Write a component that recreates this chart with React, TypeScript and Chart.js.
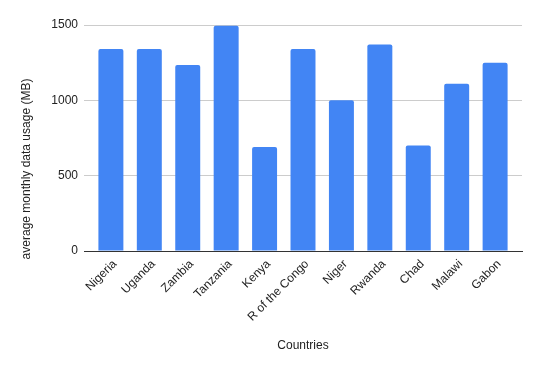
import React, { useEffect, useRef } from "react";
import { Chart, registerables } from "chart.js";

Chart.register(...registerables);

const countries = ["Nigeria", "Uganda", "Zambia", "Tanzania", "Kenya", "R of the Congo", "Niger", "Rwanda", "Chad", "Malawi", "Gabon"];
const usageMB = [1340, 1340, 1235, 1495, 690, 1340, 1000, 1370, 700, 1110, 1250];
const yTicks = [0, 500, 1000, 1500];
const yTitle = "average monthly data usage (MB)";
const xTitle = "Countries";

const FONT = "'Liberation Sans', Arial, sans-serif";

const yTitlePlugin = {
  id: "yTitle",
  afterDraw(chart: any) {
    const ctx = chart.ctx;
    ctx.save();
    ctx.translate(27, 169);
    ctx.rotate(-Math.PI / 2);
    ctx.font = `12px ${FONT}`;
    ctx.fillStyle = "#222222";
    ctx.textAlign = "center";
    ctx.textBaseline = "middle";
    ctx.fillText(yTitle, 0, 0);
    ctx.restore();
  },
};

export default function App() {
  const ref = useRef<HTMLCanvasElement>(null);
  useEffect(() => {
    const canvas = ref.current!;
    const chart = new Chart(canvas, {
      type: "bar",
      data: {
        datasets: [
          {
            data: countries.map((c, i) => ({ x: i, y: usageMB[i] })),
            backgroundColor: "#4285f4",
            borderRadius: 2,
            borderSkipped: "start",
            categoryPercentage: 1,
            barPercentage: 0.65,
          },
        ],
      },
      plugins: [yTitlePlugin],
      options: {
        animation: false,
        responsive: false,
        devicePixelRatio: 1,
        layout: { padding: { top: 25, right: 18, left: 0, bottom: 0 } },
        plugins: { legend: { display: false }, tooltip: { enabled: false } },
        scales: {
          x: {
            type: "linear",
            offset: false,
            min: -0.7,
            max: countries.length - 1 + 0.7,
            afterBuildTicks: (s: any) => {
              s.ticks = countries.map((_, i) => ({ value: i }));
            },
            afterFit: (s: any) => {
              s.height = 120;
              s.paddingLeft = 0;
              s.paddingRight = 0;
            },
            grid: { display: false, drawTicks: false, offset: false },
            border: { display: true, color: "#333333", width: 1 },
            ticks: {
              autoSkip: false,
              minRotation: 45,
              maxRotation: 45,
              padding: 6,
              labelOffset: 4,
              color: "#222222",
              font: { family: FONT, size: 12 },
              callback: (v: any) => countries[v as number] ?? "",
            },
            title: {
              display: true,
              text: xTitle,
              color: "#222222",
              font: { family: FONT, size: 12 },
              padding: { top: 0, bottom: 18 },
            },
          },
          y: {
            min: 0,
            max: 1500,
            afterBuildTicks: (s: any) => {
              s.ticks = yTicks.map((v) => ({ value: v }));
            },
            afterFit: (s: any) => {
              s.width = 84;
            },
            grid: { color: "#cccccc", drawTicks: false },
            border: { display: false },
            ticks: {
              padding: 6,
              color: "#222222",
              font: { family: FONT, size: 12 },
              callback: (v: any) => String(v),
            },
            title: { display: false },
          },
        },
      },
    });
    return () => chart.destroy();
  }, []);
  return (
    <div style={{ position: "fixed", left: 0, top: 0, width: 540, height: 371, background: "#fff" }}>
      <canvas ref={ref} width={540} height={371} style={{ width: 540, height: 371 }} />
    </div>
  );
}
